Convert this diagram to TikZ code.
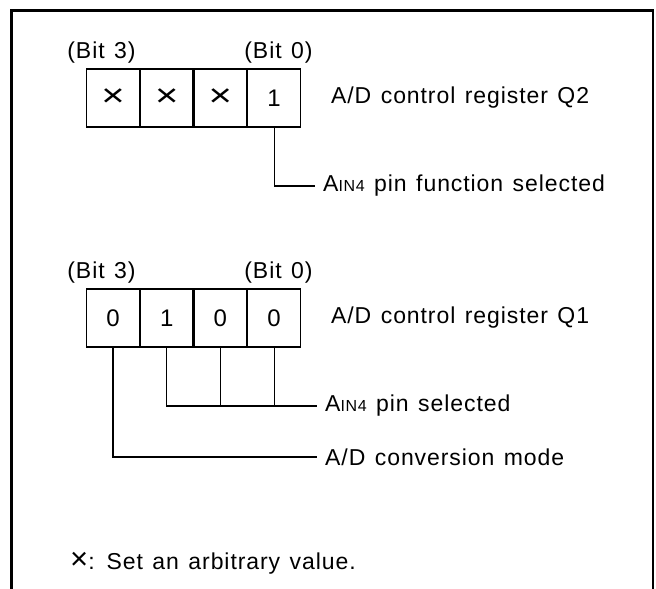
\documentclass[tikz,border=0pt]{standalone}
\usepackage{fontspec}
\setmainfont{Liberation Sans}[LetterSpace=4,WordSpace=1.3]
\usetikzlibrary{positioning}
\tikzset{
  regcell/.style={
    draw, line width=1.1pt, minimum width=52.6pt, minimum height=58pt,
    inner sep=0pt, font=\fontsize{24}{28}\selectfont
  },
  note/.style={inner sep=0pt, anchor=west, font=\fontsize{23}{27}\selectfont},
  bitnote/.style={inner sep=0pt, font=\fontsize{23}{27}\selectfont},
  frameline/.style={line width=2.6pt},
  wire/.style={line width=1.1pt}
}
\newcommand{\ain}{A{\fontsize{16}{18}\selectfont IN4}}
\newcommand{\anyval}{\scalebox{1.25}[1]{\fontsize{32}{32}\selectfont ×}}

\begin{document}
\begin{tikzpicture}[x=1pt,y=-1pt]
    \useasboundingbox (0,0) rectangle (656,589);
    \draw[frameline] (11.5,589) -- (11.5,10.5) -- (653,10.5) -- (653,589);
    % register Q2
    \node[regcell] (q2b3) at (113,98) {\anyval};
    \node[regcell,right=0pt of q2b3] (q2b2) {\anyval};
    \node[regcell,right=0pt of q2b2] (q2b1) {\anyval};
    \node[regcell,right=0pt of q2b1] (q2b0) {1};
    \node[bitnote] (q2hi) at (101.5,53) {(Bit 3)};
    \node[bitnote] (q2lo) at (278.5,53) {(Bit 0)};
    \node[note,right=30pt of q2b0] (q2name) {A/D control register Q2};
    \coordinate (q2end) at (315,186);
    \draw[wire] (q2b0.south) |- (q2end);
    \node[note,right=8pt of q2end] (q2func) {\ain\ pin function selected};
    % register Q1
    \node[regcell] (q1b3) at (113,318) {0};
    \node[regcell,right=0pt of q1b3] (q1b2) {1};
    \node[regcell,right=0pt of q1b2] (q1b1) {0};
    \node[regcell,right=0pt of q1b1] (q1b0) {0};
    \node[bitnote] (q1hi) at (101.5,273) {(Bit 3)};
    \node[bitnote] (q1lo) at (278.5,273) {(Bit 0)};
    \node[note,right=30pt of q1b0] (q1name) {A/D control register Q1};
    \coordinate (q1sel) at (317,406);
    \draw[wire] (q1b2.south) |- (q1sel);
    \draw[wire] (q1b1.south) -- (q1b1.south |- q1sel);
    \draw[wire] (q1b0.south) -- (q1b0.south |- q1sel);
    \node[note,right=8pt of q1sel] (q1pin) {\ain\ pin selected};
    \coordinate (q1mode) at (317,457);
    \draw[wire] (q1b3.south) |- (q1mode);
    \node[note,right=8pt of q1mode] (q1conv) {A/D conversion mode};
    % legend
    \node[note] (legend) at (70,563) {{\fontsize{31}{27}\selectfont ×}: Set an arbitrary value.};
\end{tikzpicture}
\end{document}
